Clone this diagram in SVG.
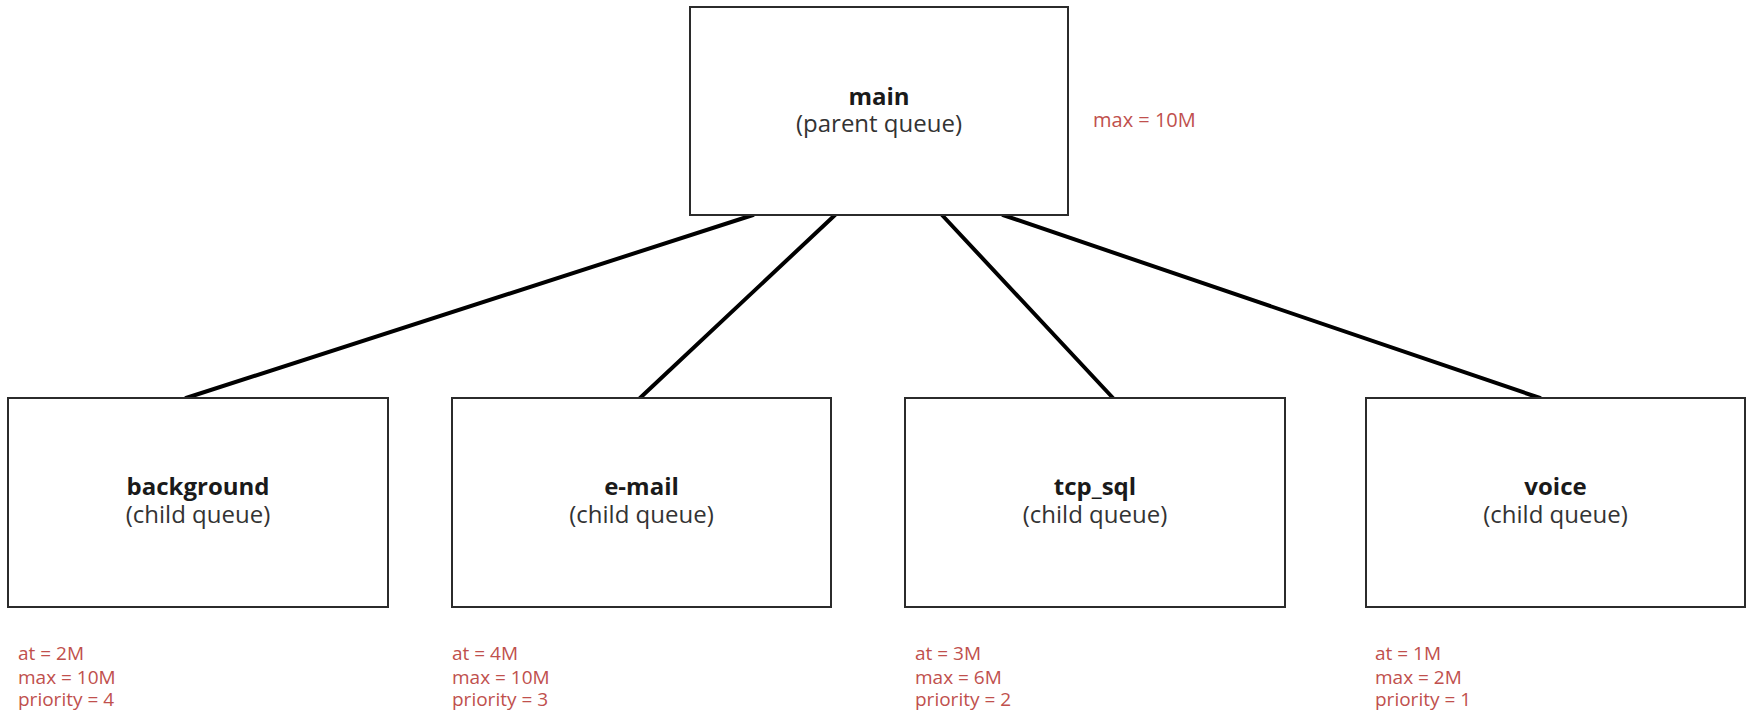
<svg xmlns="http://www.w3.org/2000/svg" width="1748" height="711" viewBox="0 0 1748 711">
<style>
.box{fill:#ffffff;stroke:#2b2b2b;stroke-width:2}
.title{font-family:"Open Sans","Noto Sans",sans-serif;font-size:24px;font-weight:bold;fill:#1a1a1a;text-anchor:middle}
.sub{font-family:"Open Sans","Noto Sans",sans-serif;font-size:24px;fill:#333333;text-anchor:middle}
.note{font-family:"Open Sans","Noto Sans",sans-serif;font-size:19px;fill:#c0504d}
.conn{stroke:#000000;stroke-width:4;stroke-linecap:round;fill:none}
</style>
<rect width="1748" height="711" fill="#ffffff"/>
<g id="connectors">
<line class="conn" x1="753" y1="215" x2="186" y2="398"/>
<line class="conn" x1="835" y1="215" x2="640" y2="398"/>
<line class="conn" x1="942" y1="215" x2="1113" y2="398"/>
<line class="conn" x1="1003" y1="215" x2="1540" y2="398"/>
</g>
<g id="main">
<rect class="box" x="690" y="7" width="378" height="208"/>
<text class="title" x="879" y="105">main</text>
<text class="sub" x="879" y="132">(parent queue)</text>
<text class="note" x="1093" y="127" style="font-size:20px">max = 10M</text>
</g>
<g id="background">
<rect class="box" x="8" y="398" width="380" height="209"/>
<text class="title" x="198" y="495">background</text>
<text class="sub" x="198" y="523">(child queue)</text>
<text class="note" x="18" y="660">at = 2M</text>
<text class="note" x="18" y="684">max = 10M</text>
<text class="note" x="18" y="706">priority = 4</text>
</g>
<g id="e-mail">
<rect class="box" x="452" y="398" width="379" height="209"/>
<text class="title" x="641.5" y="495">e-mail</text>
<text class="sub" x="641.5" y="523">(child queue)</text>
<text class="note" x="452" y="660">at = 4M</text>
<text class="note" x="452" y="684">max = 10M</text>
<text class="note" x="452" y="706">priority = 3</text>
</g>
<g id="tcp_sql">
<rect class="box" x="905" y="398" width="380" height="209"/>
<text class="title" x="1095" y="495">tcp_sql</text>
<text class="sub" x="1095" y="523">(child queue)</text>
<text class="note" x="915" y="660">at = 3M</text>
<text class="note" x="915" y="684">max = 6M</text>
<text class="note" x="915" y="706">priority = 2</text>
</g>
<g id="voice">
<rect class="box" x="1366" y="398" width="379" height="209"/>
<text class="title" x="1555.5" y="495">voice</text>
<text class="sub" x="1555.5" y="523">(child queue)</text>
<text class="note" x="1375" y="660">at = 1M</text>
<text class="note" x="1375" y="684">max = 2M</text>
<text class="note" x="1375" y="706">priority = 1</text>
</g>
</svg>
